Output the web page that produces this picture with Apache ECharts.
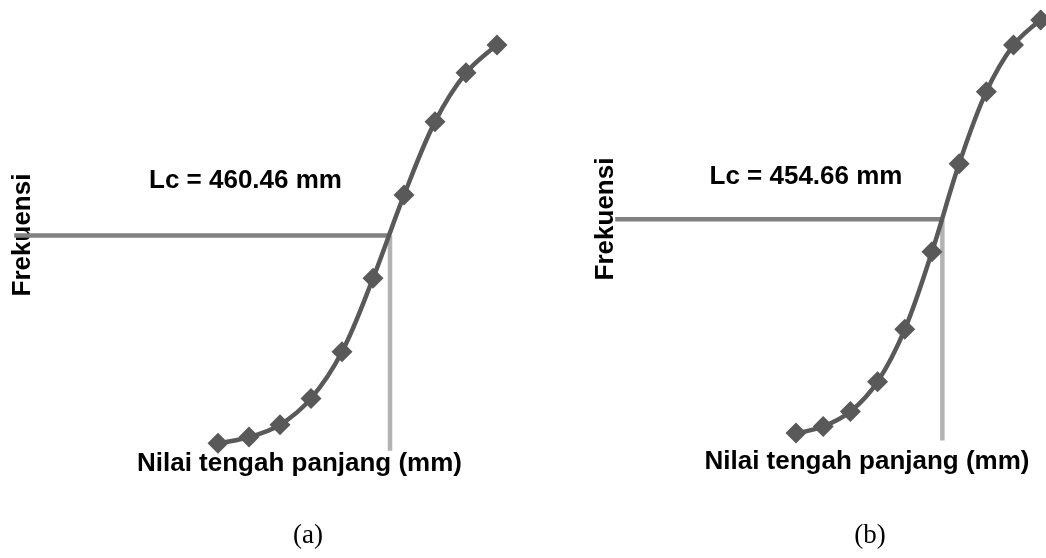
<!DOCTYPE html>
<html>
<head>
<meta charset="utf-8">
<script src="https://cdn.jsdelivr.net/npm/echarts@6/dist/echarts.min.js"></script>
<style>
html,body{margin:0;padding:0;background:#fff;}
#c{width:1046px;height:558px;}
</style>
</head>
<body>
<div id="c"></div>
<script>
// Panel (a)
const midA = [349.5, 369.5, 389.5, 409.5, 429.5, 449.5, 469.5, 489.5, 509.5, 529.5];
const cumA = [3.8, 5.2, 8.0, 14.0, 24.6, 41.3, 60.2, 76.9, 88.0, 94.3];
const lcA = 460.46;
const lcLevelA = 51.0;
// Panel (b)
const midB = [347, 367, 387, 407, 427, 447, 467, 487, 507, 527];
const cumB = [2.7, 4.2, 7.6, 14.4, 26.3, 43.9, 63.9, 80.3, 90.9, 96.6];
const lcB = 454.66;
const lcLevelB = 51.3;
// Axis ranges
const xRangeA = [218, 530];
const xRangeB = [214, 527];
const lineBottomA = 2.1;
const lineBottomB = 1.0;

const xTitle = 'Nilai tengah panjang (mm)';
const yTitle = 'Frekuensi';
const panelLabels = ['(a)', '(b)'];

const chart = echarts.init(document.getElementById('c'));
const FONT = 'Liberation Sans, Arial, sans-serif';
const curveColor = '#595959';

function curve(idx, xs, ys) {
  return {
    type: 'line', xAxisIndex: idx, yAxisIndex: idx, z: 5,
    data: xs.map((x, i) => [x, ys[i]]),
    smooth: 0.35, clip: false,
    symbol: 'diamond', symbolSize: [21, 21],
    lineStyle: {color: curveColor, width: 4.5},
    itemStyle: {color: curveColor},
    silent: true
  };
}
function hline(idx, x0, lc, lvl) {
  return {
    type: 'line', xAxisIndex: idx, yAxisIndex: idx, z: 3, clip: false,
    data: [[x0, lvl], [lc, lvl]], symbol: 'none',
    lineStyle: {color: '#808080', width: 4.5, cap: 'butt'}, silent: true
  };
}
function vline(idx, lc, lvl, bottom) {
  return {
    type: 'line', xAxisIndex: idx, yAxisIndex: idx, z: 2, clip: false,
    data: [[lc, lvl], [lc, bottom]], symbol: 'none',
    lineStyle: {color: '#b3b3b3', width: 4.5, cap: 'butt'}, silent: true
  };
}
const hiddenX = (r) => ({type: 'value', min: r[0], max: r[1], show: false, splitLine: {show: false}});
const hiddenY = {type: 'value', min: 0, max: 100, show: false, splitLine: {show: false}};

const boldText = {fontFamily: FONT, fontWeight: 'bold', fontSize: 26, fill: '#000'};

chart.setOption({
  animation: false,
  grid: [
    {left: 14.2, width: 483.6, top: 20, height: 440},
    {left: 615.2, width: 425.5, top: 5, height: 440}
  ],
  xAxis: [Object.assign(hiddenX(xRangeA), {gridIndex: 0}), Object.assign(hiddenX(xRangeB), {gridIndex: 1})],
  yAxis: [Object.assign({}, hiddenY, {gridIndex: 0}), Object.assign({}, hiddenY, {gridIndex: 1})],
  series: [
    hline(0, xRangeA[0], lcA, lcLevelA),
    vline(0, lcA, lcLevelA, lineBottomA),
    curve(0, midA, cumA),
    hline(1, xRangeB[0], lcB, lcLevelB),
    vline(1, lcB, lcLevelB, lineBottomB),
    curve(1, midB, cumB)
  ],
  graphic: [
    {type: 'text', z: 0, x: 245.5, y: 180.5, style: Object.assign({text: 'Lc = ' + lcA.toFixed(2) + ' mm', align: 'center', verticalAlign: 'middle'}, boldText)},
    {type: 'text', z: 0, x: 806, y: 176.7, style: Object.assign({text: 'Lc = ' + lcB.toFixed(2) + ' mm', align: 'center', verticalAlign: 'middle'}, boldText)},
    {type: 'text', z: 0, x: 299.5, y: 464, style: Object.assign({text: xTitle, align: 'center', verticalAlign: 'middle'}, boldText)},
    {type: 'text', z: 0, x: 867, y: 462, style: Object.assign({text: xTitle, align: 'center', verticalAlign: 'middle'}, boldText)},
    {type: 'text', z: 0, x: 23, y: 235, rotation: Math.PI / 2, style: Object.assign({text: yTitle, align: 'center', verticalAlign: 'middle'}, boldText)},
    {type: 'text', z: 0, x: 606, y: 219, rotation: Math.PI / 2, style: Object.assign({text: yTitle, align: 'center', verticalAlign: 'middle'}, boldText)},
    {type: 'text', z: 0, x: 308, y: 536, style: {text: panelLabels[0], align: 'center', verticalAlign: 'middle', fontFamily: 'Liberation Serif, Times New Roman, serif', fontSize: 27, fill: '#000'}},
    {type: 'text', z: 0, x: 870, y: 536, style: {text: panelLabels[1], align: 'center', verticalAlign: 'middle', fontFamily: 'Liberation Serif, Times New Roman, serif', fontSize: 27, fill: '#000'}}
  ]
});
</script>
</body>
</html>
